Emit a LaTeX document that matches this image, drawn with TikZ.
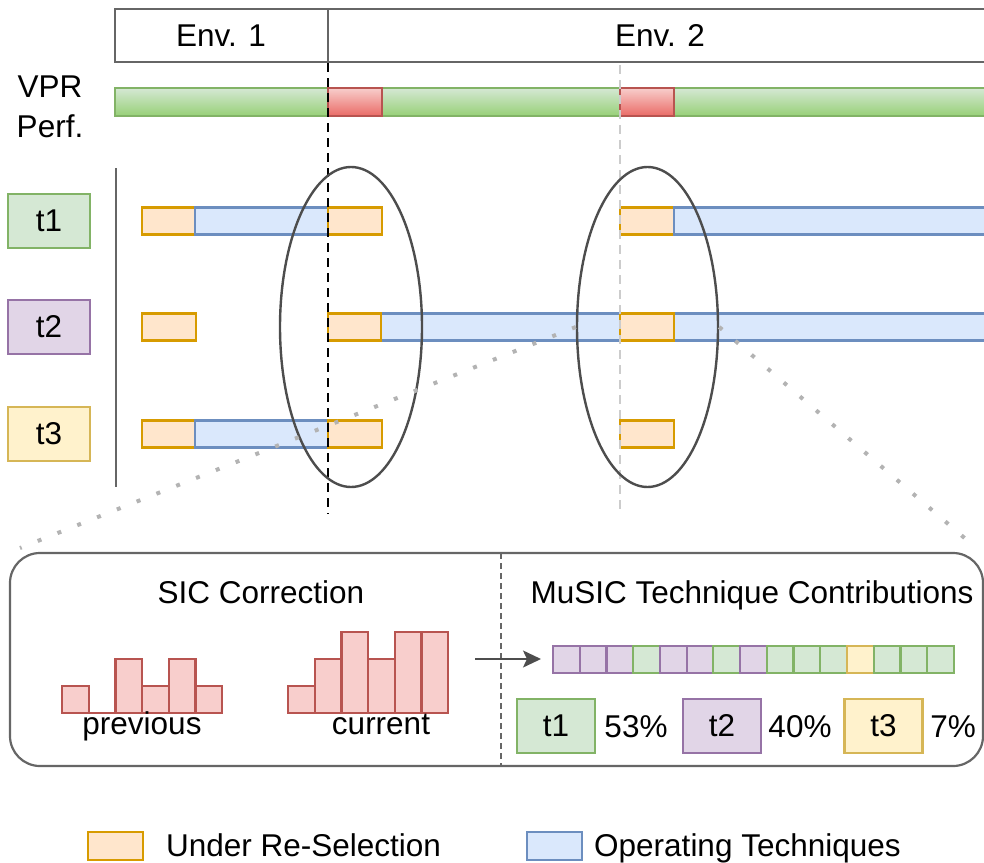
\documentclass[tikz,border=0pt]{standalone}
\usepackage{fontspec}
\setmainfont{Liberation Sans}
\usetikzlibrary{shapes.geometric,arrows.meta}

% draw.io-like palette
\definecolor{selFill}{HTML}{FFE6CC}
\definecolor{selLine}{HTML}{D79B00}
\definecolor{opFill}{HTML}{DAE8FC}
\definecolor{opLine}{HTML}{6C8EBF}
\definecolor{gFill}{HTML}{D5E8D4}
\definecolor{gDark}{HTML}{97D077}
\definecolor{gLine}{HTML}{82B366}
\definecolor{rFill}{HTML}{F8CECC}
\definecolor{rDark}{HTML}{EA6B66}
\definecolor{rLine}{HTML}{B85450}
\definecolor{pFill}{HTML}{E1D5E7}
\definecolor{pLine}{HTML}{9673A6}
\definecolor{yFill}{HTML}{FFF2CC}
\definecolor{yLine}{HTML}{D6B656}
\definecolor{frame}{HTML}{666666}
\definecolor{ringc}{HTML}{4D4D4D}
\definecolor{dotc}{HTML}{B3B3B3}
\definecolor{lightdash}{HTML}{CCCCCC}

% one bar segment of a technique row: style, x from, x to, row centre
\newcommand{\seg}[4]{\draw[#1] (#2,#4-13.5) rectangle (#3,#4+13.5);}

\begin{document}
\begin{tikzpicture}[x=1pt,y=-1pt,
  font=\fontsize{31.5}{37}\selectfont,
  sel/.style={fill=selFill,draw=selLine,line width=2.2pt},
  oper/.style={fill=opFill,draw=opLine,line width=2.2pt},
  cellG/.style={fill=gFill,draw=gLine,line width=2.2pt},
  cellP/.style={fill=pFill,draw=pLine,line width=2.2pt},
  cellY/.style={fill=yFill,draw=yLine,line width=2.2pt},
  tbox/.style={line width=2.2pt,inner sep=0pt,minimum width=82pt,minimum height=54pt},
  lbox/.style={line width=2.2pt,inner sep=0pt,minimum width=78pt,minimum height=54pt},
  hist/.style={fill=rFill,draw=rLine,line width=2.2pt},
  ring/.style={ellipse,draw=ringc,line width=2.4pt,inner sep=0pt},
  zoomline/.style={draw=dotc,line width=4pt,dash pattern=on 4pt off 17.3pt},
  lbl/.style={anchor=base,inner sep=0pt},
]
\useasboundingbox (0,0) rectangle (984,862);
\begin{scope}
\clip (0,0) rectangle (984,862);

% environment header
\draw[frame,line width=2.2pt] (1000,9) -- (115,9) -- (115,62) -- (1000,62);
\draw[frame,line width=2.2pt] (328,9) -- (328,62);
\node[lbl] (env1) at (221,46) {Env. 1};
\node[lbl] (env2) at (660,46) {Env. 2};

% VPR performance bar
\node[lbl] (vpr) at (50,97) {VPR};
\node[lbl] (perf) at (50,137) {Perf.};
\shade[top color=gFill,bottom color=gDark] (115,88) rectangle (1000,116);
\draw[gLine,line width=2.2pt] (115,88) rectangle (1000,116);
\foreach \a/\b in {328/382,620/674}{
  \shade[top color=rFill,bottom color=rDark] (\a,88) rectangle (\b,116);
  \draw[rLine,line width=2.2pt] (\a,88) rectangle (\b,116);
}

% technique labels and axis
\node[tbox,fill=gFill,draw=gLine] (t1) at (49,221) {t1};
\node[tbox,fill=pFill,draw=pLine] (t2) at (49,327) {t2};
\node[tbox,fill=yFill,draw=yLine] (t3) at (49,434) {t3};
\draw[frame,line width=2.2pt] (116,168) -- (116,487);

% technique rows
\seg{sel}{142}{195}{221}
\seg{oper}{195}{328}{221}
\seg{sel}{328}{382}{221}
\seg{sel}{620}{674}{221}
\seg{oper}{674}{1000}{221}

\seg{sel}{142}{196}{327}
\seg{oper}{381}{1000}{327}
\seg{sel}{328}{381}{327}
\seg{sel}{620}{674}{327}

\seg{sel}{142}{195}{434}
\seg{oper}{195}{328}{434}
\seg{sel}{328}{382}{434}
\seg{sel}{620}{674}{434}

% environment change markers
\draw[black,line width=2.5pt,dash pattern=on 9pt off 6pt] (328,63) -- (328,514);
\draw[lightdash,line width=2.5pt,dash pattern=on 9pt off 6pt] (620,65) -- (620,514);

% re-selection events
\node[ring,minimum width=142pt,minimum height=320pt] (e1) at (351,327) {};
\node[ring,minimum width=141pt,minimum height=320pt] (e2) at (647.5,327) {};

% zoom-in lines towards the detail panel
\coordinate (zl) at (20,548);
\coordinate (zr) at (968,541);
\draw[zoomline] (e2.west) -- (zl);
\draw[zoomline] (e2.east) -- (zr);

% detail panel
\draw[frame,line width=2.2pt,fill=white,rounded corners=30pt] (10,553) rectangle (983,766);
\draw[frame,line width=1.5pt,dash pattern=on 6pt off 4pt] (501,553) -- (501,766);
\node[lbl] (sic) at (261,603) {SIC Correction};
\node[lbl] (music) at (752,603) {MuSIC Technique Contributions};

% SIC histograms
\foreach \h [count=\i from 0] in {1,0,2,1,2,1}
  \draw[hist] ({62+\i*26.7},713) rectangle ++(26.7,{-27*\h});
\foreach \h [count=\i from 0] in {1,2,3,2,3,3}
  \draw[hist] ({288+\i*26.7},713) rectangle ++(26.7,{-27*\h});
\node[lbl] (prev) at (142,734) {previous};
\node[lbl] (curr) at (381,734) {current};

% arrow into the contribution strip
\coordinate (as) at (475,659);
\coordinate (ae) at (541,659);
\draw[ringc,line width=1.8pt,-{Stealth[length=18pt,width=17pt,inset=4pt]}] (as) -- (ae);

% contribution strip
\foreach \c [count=\i from 0] in {P,P,P,G,P,P,G,P,G,G,G,Y,G,G,G}
  \draw[cell\c] ({553+\i*26.73},646) rectangle ++(26.73,27);

% contribution shares
\node[lbox,fill=gFill,draw=gLine] (c1) at (556,726) {t1};
\node[lbl] (p1) at (636,737) {53\%};
\node[lbox,fill=pFill,draw=pLine] (c2) at (722,726) {t2};
\node[lbl] (p2) at (800,737) {40\%};
\node[lbox,fill=yFill,draw=yLine] (c3) at (883.5,726) {t3};
\node[lbl] (p3) at (953,737) {7\%};

% legend
\draw[sel] (88,832) rectangle (143,860);
\node[anchor=base west,inner sep=0pt] (lg1) at (166,856) {Under Re-Selection};
\draw[oper] (527,832) rectangle (582,860);
\node[anchor=base west,inner sep=0pt] (lg2) at (594,856) {Operating Techniques};
\end{scope}
\end{tikzpicture}
\end{document}
